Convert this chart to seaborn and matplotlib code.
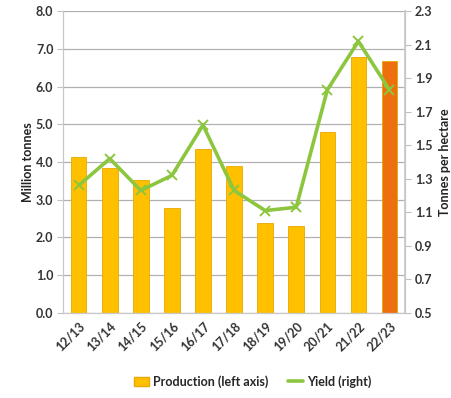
import matplotlib
matplotlib.use("Agg")
import matplotlib.pyplot as plt
import seaborn as sns
import numpy as np
from matplotlib.patches import Patch
from matplotlib.lines import Line2D

seasons = ["12/13", "13/14", "14/15", "15/16", "16/17", "17/18",
           "18/19", "19/20", "20/21", "21/22", "22/23"]
production = [4.13, 3.84, 3.52, 2.78, 4.34, 3.89, 2.37, 2.30, 4.79, 6.78, 6.67]
yield_t_ha = [1.26, 1.42, 1.23, 1.32, 1.62, 1.23, 1.11, 1.13, 1.83, 2.12, 1.83]

gold = "#FFC000"
orange = "#EE6F0E"
green = "#8CC63F"
bar_colors = [gold] * (len(seasons) - 1) + [orange]

sns.set_theme(style="white")
plt.rcParams["font.family"] = ["Lato", "DejaVu Sans"]

fig = plt.figure(figsize=(4.51, 3.98), dpi=100)
ax = fig.add_axes([0.14, 0.214, 0.758, 0.758])

sns.barplot(x=seasons, y=production, hue=seasons, palette=bar_colors,
            legend=False, width=0.5, ax=ax, saturation=1,
            edgecolor="#E8A800", linewidth=0.6)

ax.set_ylim(0, 8)
lticks = np.arange(0, 8.01, 1.0)
ax.set_yticks(lticks)
ax.set_yticklabels([f"{v:.1f}" for v in lticks],
                   fontsize=9, fontweight="bold", color="#333333")
ax.set_xlim(-0.5, len(seasons) - 0.5)
ax.grid(axis="y", color="#b0b0b0", linewidth=0.9)
ax.set_axisbelow(True)
ax.set_ylabel("Million tonnes", fontsize=9, fontweight="bold",
              color="#222222", labelpad=1)
ax.set_xlabel("")
ax.set_xticks(np.arange(len(seasons)))
ax.set_xticklabels(seasons, rotation=45, ha="right", rotation_mode="anchor",
                   fontsize=9, fontweight="bold", color="#333333")
ax.spines["top"].set_visible(False)
for side in ["left", "bottom", "right"]:
    ax.spines[side].set_color("#c8c8c8")
    ax.spines[side].set_linewidth(0.9)

# category boundary ticks on the x axis
ax.set_xticks(np.arange(-0.5, len(seasons), 1.0), minor=True)
ax.tick_params(axis="x", which="minor", length=4, color="#c0c0c0", width=0.8)
ax.tick_params(axis="x", which="major", length=0, pad=5)
ax.tick_params(axis="y", length=4, color="#c0c0c0", width=0.8, left=True, pad=3)

ax2 = ax.twinx()
sns.lineplot(x=np.arange(len(seasons)), y=yield_t_ha, ax=ax2, color=green,
             linewidth=2.6, marker="x", markersize=7, markeredgewidth=1.4,
             markeredgecolor=green, sort=False)
ax2.set_ylim(0.5, 2.3)
rticks = np.arange(0.5, 2.31, 0.2)
ax2.set_yticks(rticks)
ax2.set_yticklabels([f"{v:.1f}" for v in rticks], fontsize=9,
                    fontweight="bold", color="#333333")
ax2.set_ylabel("Tonnes per hectare", fontsize=9, fontweight="bold",
               color="#222222", labelpad=5)
ax2.tick_params(axis="y", length=4, color="#c0c0c0", width=0.8, right=True, pad=3)
ax2.grid(False)
for side in ["top", "left", "bottom"]:
    ax2.spines[side].set_visible(False)
ax2.spines["right"].set_color("#c8c8c8")

handles = [Patch(facecolor=gold, edgecolor="#E8A800", label="Production (left axis)"),
           Line2D([0], [0], color=green, linewidth=2.6, label="Yield (right)")]
fig.legend(handles=handles, loc="center", bbox_to_anchor=(0.56, 0.042),
           ncol=2, frameon=False, handlelength=1.2,
           handletextpad=0.3, columnspacing=1.6,
           prop={"weight": "bold", "size": 9})

fig.savefig("out.png", dpi=100)
